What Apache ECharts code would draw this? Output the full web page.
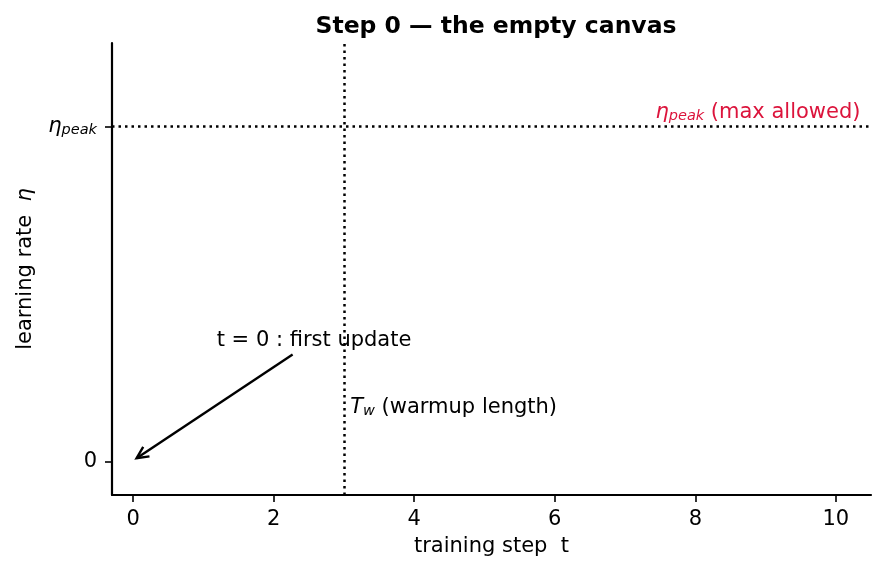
<!DOCTYPE html>
<html><head><meta charset="utf-8">
<script src="https://cdn.jsdelivr.net/npm/echarts@6/dist/echarts.min.js"></script>
<style>html,body{margin:0;padding:0;background:#fff}#c{width:885px;height:571px}</style>
</head><body><div id="c"></div>
<script>
const xTicks = [0, 2, 4, 6, 8, 10];
const yTicks = [0, 1];
const xRange = [-0.3, 10.5];
const yRange = [-0.1, 1.25];
const warmupT = 3;
const etaPeak = 1;
const arrowFrom = [2.27, 0.32];
const arrowTo = [0.05, 0.01];
const annFirst = [1.19, 0.362];
const annWarm = [3.09, 0.162];
const annPeak = [10.35, 1.043];

const F = "'DejaVu Sans', sans-serif";
const FS = 21;
const RED = '#dc143c';
const chart = echarts.init(document.getElementById('c'));
function etaRich(color) {
  return {
    e: {fontFamily: F, fontStyle: 'italic', fontSize: FS, color: color},
    s: {fontFamily: F, fontStyle: 'italic', fontSize: 14.5, padding: [8, 0, 0, 0], color: color},
    n: {fontFamily: F, fontSize: FS, color: color}
  };
}
chart.setOption({
  animation: false,
  textStyle: {fontFamily: F},
  title: {text: 'Step 0 — the empty canvas', left: 491, top: 10, textAlign: 'center',
    textStyle: {fontFamily: F, fontWeight: 'bold', fontSize: 23.5, color: '#000'}},
  grid: {left: 112, right: 14, top: 43, bottom: 76},
  xAxis: {type: 'value', min: xRange[0], max: xRange[1],
    name: 'training step  t', nameLocation: 'middle', nameGap: 41,
    nameTextStyle: {fontFamily: F, fontSize: FS, color: '#000'},
    axisLine: {onZero: false, lineStyle: {color: '#000', width: 2.2}},
    axisTick: {customValues: xTicks, length: 7, lineStyle: {color: '#000', width: 1.6}},
    axisLabel: {customValues: xTicks, fontFamily: F, fontSize: FS, color: '#000', margin: 14},
    splitLine: {show: false}},
  yAxis: {type: 'value', min: yRange[0], max: yRange[1],
    name: '{n|learning rate  }{e|η}', nameLocation: 'middle', nameGap: 76, nameRotate: 90,
    nameTextStyle: {fontFamily: F, fontSize: FS, color: '#000', rich: etaRich('#000')},
    axisLine: {show: true, onZero: false, lineStyle: {color: '#000', width: 2.2}},
    axisTick: {show: true, customValues: yTicks, length: 7, lineStyle: {color: '#000', width: 1.6}},
    axisLabel: {customValues: yTicks, fontFamily: F, fontSize: FS, color: '#000', margin: 15,
      formatter: v => v === 1 ? '{e|η}{s|peak}' : String(v), rich: etaRich('#000')},
    splitLine: {show: false}},
  series: [{
    type: 'line', data: [], silent: true,
    markLine: {silent: true, symbol: 'none', label: {show: false},
      lineStyle: {type: [2.5, 4], color: '#000', width: 2.5},
      data: [{xAxis: warmupT}, {yAxis: etaPeak}]}
  }, {
    type: 'custom', silent: true, data: [[arrowFrom[0], arrowFrom[1], arrowTo[0], arrowTo[1]]],
    renderItem: function (params, api) {
      const p0 = api.coord([api.value(0), api.value(1)]);
      const p1 = api.coord([api.value(2), api.value(3)]);
      const ang = Math.atan2(p1[1] - p0[1], p1[0] - p0[0]);
      const L = 13, w = 0.45;
      const a1 = [p1[0] - L * Math.cos(ang - w), p1[1] - L * Math.sin(ang - w)];
      const a2 = [p1[0] - L * Math.cos(ang + w), p1[1] - L * Math.sin(ang + w)];
      const st = {stroke: '#000', lineWidth: 2.4, fill: null};
      return {type: 'group', children: [
        {type: 'line', shape: {x1: p0[0], y1: p0[1], x2: p1[0], y2: p1[1]}, style: st},
        {type: 'polyline', shape: {points: [a1, p1, a2]}, style: st}
      ]};
    }
  }, {
    type: 'scatter', symbolSize: 0, silent: true, itemStyle: {opacity: 1},
    data: [
      {value: annFirst, label: {show: true, position: 'right', distance: 0, formatter: 't = 0 : first update',
        fontFamily: F, fontSize: FS, color: '#000', opacity: 1}},
      {value: annWarm, label: {show: true, position: 'right', distance: 0, formatter: '{e|T}{s|w}{n| (warmup length)}',
        color: '#000', opacity: 1, rich: etaRich('#000')}},
      {value: annPeak, label: {show: true, position: 'left', distance: 0, formatter: '{e|η}{s|peak}{n| (max allowed)}',
        color: RED, opacity: 1, rich: etaRich(RED)}}
    ]
  }]
});
</script></body></html>
